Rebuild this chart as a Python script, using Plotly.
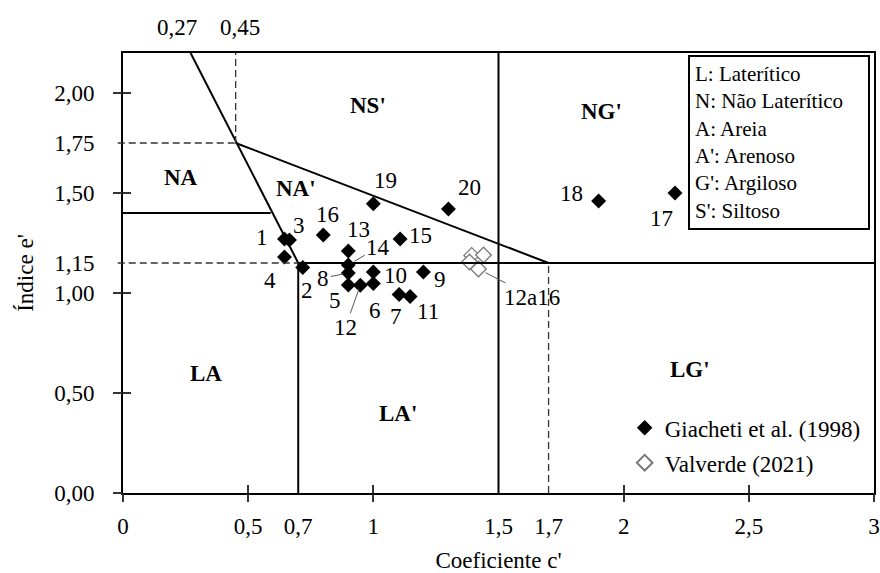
import plotly.graph_objects as go

# ---------------- data ----------------
giacheti_ids = ["1", "2", "3", "4", "5", "6", "7", "8", "9", "10",
                "11", "12", "13", "14", "15", "16", "17", "18", "19", "20"]
giacheti_c = [0.645, 0.718, 0.665, 0.645, 0.90, 1.00, 1.103, 0.90, 1.20, 1.00,
              1.147, 0.948, 0.90, 0.90, 1.107, 0.80, 2.205, 1.90, 1.00, 1.30]
giacheti_e = [1.27, 1.127, 1.265, 1.18, 1.04, 1.047, 0.993, 1.10, 1.105, 1.105,
              0.983, 1.039, 1.21, 1.14, 1.27, 1.29, 1.50, 1.46, 1.446, 1.42]

valverde_c = [1.393, 1.44, 1.384, 1.42]
valverde_e = [1.188, 1.19, 1.155, 1.12]
valverde_label = "12a16"

# MCT classification boundaries (c', e')
solid_bounds = [
    ((0.27, 2.2), (0.70, 1.15)),
    ((0.45, 1.75), (1.70, 1.15)),
    ((0.00, 1.40), (0.59, 1.40)),
    ((0.70, 1.15), (3.00, 1.15)),
    ((0.70, 0.00), (0.70, 1.15)),
    ((1.50, 0.00), (1.50, 2.20)),
]
dashed_bounds = [
    ((0.45, 1.75), (0.45, 2.20)),
    ((1.70, 0.00), (1.70, 1.15)),
]
dashed_left_bounds = [(1.75, 0.45), (1.15, 0.70)]  # (e', c' end)

region_names = ["NS'", "NG'", "NA", "NA'", "LA", "LA'", "LG'"]
region_c = [0.98, 1.91, 0.23, 0.69, 0.333, 1.10, 2.266]
region_e = [1.94, 1.91, 1.58, 1.523, 0.60, 0.40, 0.62]

x_tick_vals = [0, 0.5, 0.7, 1, 1.5, 1.7, 2, 2.5, 3]
x_tick_text = ["0", "0,5", "0,7", "1", "1,5", "1,7", "2", "2,5", "3"]
x_mark_vals = [0, 0.5, 1, 2, 2.5, 3]
y_tick_vals = [0, 0.5, 1.0, 1.15, 1.5, 1.75, 2.0]
y_tick_text = ["0,00", "0,50", "1,00", "1,15", "1,50", "1,75", "2,00"]
y_mark_vals = [0, 0.5, 1.0, 1.5, 2.0]
top_vals = [0.27, 0.45]
top_text = ["0,27", "0,45"]

key_lines = ["L: Laterítico", "N: Não Laterítico", "A: Areia",
             "A': Arenoso", "G': Argiloso", "S': Siltoso"]

# ---------------- styling ----------------
FONT = "Liberation Serif, Times New Roman, serif"
FS = 23
# label offsets (px) relative to each point: (dx, dy) with dy downward
label_offsets = {
    "1": (-22, -2), "2": (4, 23), "3": (10, -15), "4": (-14, 23),
    "5": (-13, 15), "6": (2, 27), "7": (-3, 22), "9": (17, 7),
    "10": (22, 3), "11": (18, 15), "13": (10, -22), "15": (20, -4),
    "16": (4, -21), "17": (-13, 25), "18": (-27, -8), "19": (12, -23),
    "20": (21, -22),
}
leader_labels = {"14": (30, -18, 7), "8": (-25, 5, 5), "12": (-15, 42, 4)}

fig = go.Figure()

fig.add_trace(go.Scatter(
    x=giacheti_c, y=giacheti_e, mode="markers", name="Giacheti et al. (1998)",
    marker=dict(symbol="diamond", size=11.5, color="black"),
    legendgroup="a",
))
fig.add_trace(go.Scatter(
    x=valverde_c, y=valverde_e, mode="markers", name="Valverde (2021)",
    marker=dict(symbol="diamond", size=12, color="white",
                line=dict(color="#7a7a7a", width=1.3)),
    legendgroup="b",
))
# empty traces that carry the tick-mark overlay axes
fig.add_trace(go.Scatter(x=[], y=[], xaxis="x2", yaxis="y2", showlegend=False, hoverinfo="skip"))
fig.add_trace(go.Scatter(x=[], y=[], xaxis="x3", yaxis="y3", showlegend=False, hoverinfo="skip"))

shapes = []
for (x0, y0), (x1, y1) in solid_bounds:
    shapes.append(dict(type="line", xref="x", yref="y", x0=x0, y0=y0, x1=x1, y1=y1,
                       line=dict(color="black", width=2)))
for (x0, y0), (x1, y1) in dashed_bounds:
    shapes.append(dict(type="line", xref="x", yref="y", x0=x0, y0=y0, x1=x1, y1=y1,
                       line=dict(color="#333333", width=1.3, dash="7px,4px")))
for yv, xe in dashed_left_bounds:
    shapes.append(dict(type="line", xref="paper", yref="y", x0=-0.007, y0=yv, x1=xe / 3.0, y1=yv,
                       line=dict(color="#333333", width=1.3, dash="7px,4px")))

annotations = []
for name, cx, ey in zip(giacheti_ids, giacheti_c, giacheti_e):
    if name in label_offsets:
        dx, dy = label_offsets[name]
        annotations.append(dict(x=cx, y=ey, xref="x", yref="y", text=name, showarrow=False,
                                xshift=dx, yshift=-dy, font=dict(family=FONT, size=FS, color="black")))
    elif name in leader_labels:
        dx, dy, so = leader_labels[name]
        annotations.append(dict(x=cx, y=ey, xref="x", yref="y", text=name, showarrow=True,
                                arrowhead=0, arrowwidth=1, arrowcolor="#555555", ax=dx, ay=dy,
                                standoff=so, font=dict(family=FONT, size=FS, color="black")))
annotations.append(dict(x=valverde_c[3], y=valverde_e[3], xref="x", yref="y", text=valverde_label,
                        showarrow=True, arrowhead=0, arrowwidth=1, arrowcolor="#555555",
                        ax=54, ay=28, standoff=8, font=dict(family=FONT, size=FS, color="black")))

for nm, cx, ey in zip(region_names, region_c, region_e):
    annotations.append(dict(x=cx, y=ey, xref="x", yref="y", text="<b>" + nm + "</b>", showarrow=False,
                            font=dict(family=FONT, size=FS, color="black")))

for v, t, sh in zip(top_vals, top_text, [-14, 4]):
    annotations.append(dict(x=v, y=1.059, xref="x", yref="paper", text=t,
                            showarrow=False, xshift=sh, yanchor="middle",
                            font=dict(family=FONT, size=FS, color="black")))

annotations.append(dict(x=0.9947, y=0.9954, xref="paper", yref="paper", xanchor="right", yanchor="top",
                        text="<br>".join(key_lines), showarrow=False, align="left",
                        width=168, borderpad=5, bordercolor="black", borderwidth=2, bgcolor="white",
                        font=dict(family=FONT, size=21, color="black")))

axis_common = dict(showgrid=False, zeroline=False)
fig.update_layout(
    width=880, height=573,
    margin=dict(l=123, r=6, t=53, b=80),
    paper_bgcolor="white", plot_bgcolor="white",
    font=dict(family=FONT, size=FS, color="black"),
    shapes=shapes, annotations=annotations,
    showlegend=True,
    legend=dict(x=0.668, y=0.197, xanchor="left", yanchor="top", bgcolor="rgba(0,0,0,0)",
                font=dict(family=FONT, size=FS, color="black"), tracegroupgap=2,
                itemsizing="constant"),
    xaxis=dict(range=[0, 3], tickmode="array", tickvals=x_tick_vals, ticktext=x_tick_text,
               ticks="", showline=True, linecolor="black", linewidth=2, mirror=True,
               ticklabelstandoff=11, automargin=False,
               title=dict(text="Coeficiente c'", standoff=22, font=dict(family=FONT, size=FS)),
               **axis_common),
    yaxis=dict(range=[0, 2.2], tickmode="array", tickvals=y_tick_vals, ticktext=y_tick_text,
               ticks="", showline=True, linecolor="black", linewidth=2, mirror=True,
               ticklabelstandoff=22, automargin=False,
               title=dict(text="Índice e'", standoff=14, font=dict(family=FONT, size=FS)),
               **axis_common),
    xaxis2=dict(range=[0, 3], overlaying="x", anchor="y2", side="bottom", tickmode="array",
                tickvals=x_mark_vals, ticks="outside", ticklen=8, tickwidth=1.5, tickcolor="#333333",
                showticklabels=False, showline=False, **axis_common),
    yaxis2=dict(range=[0, 2.2], overlaying="y", anchor="x2", side="left", tickmode="array",
                tickvals=y_mark_vals, ticks="outside", ticklen=9, tickwidth=1.5, tickcolor="#333333",
                showticklabels=False, showline=False, **axis_common),
    xaxis3=dict(range=[0, 3], overlaying="x", anchor="y3", side="bottom", tickmode="array",
                tickvals=x_mark_vals, ticks="inside", ticklen=8, tickwidth=1.5, tickcolor="#333333",
                showticklabels=False, showline=False, **axis_common),
    yaxis3=dict(range=[0, 2.2], overlaying="y", anchor="x3", side="left", tickmode="array",
                tickvals=y_mark_vals, ticks="inside", ticklen=8, tickwidth=1.5, tickcolor="#333333",
                showticklabels=False, showline=False, **axis_common),
)

fig.write_html("out.html")
